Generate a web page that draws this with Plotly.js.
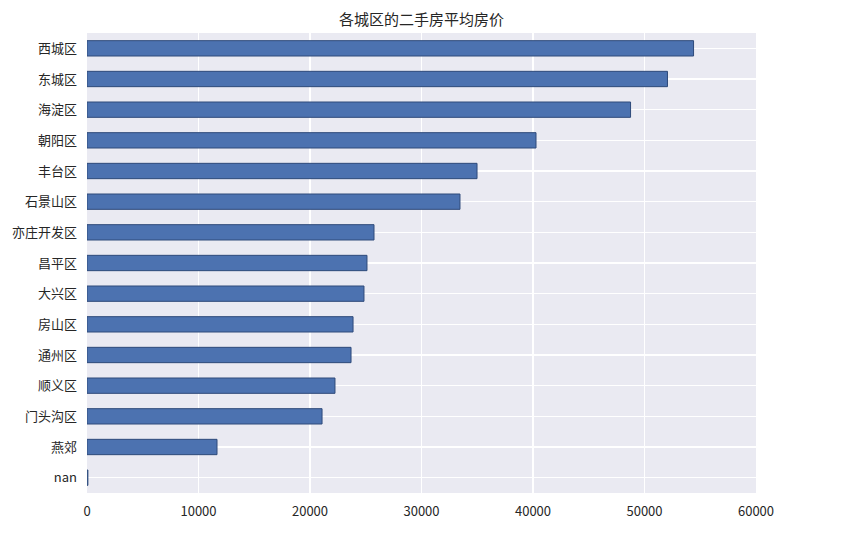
<!DOCTYPE html>
<html>
<head>
<meta charset="utf-8">
<script src="https://cdn.plot.ly/plotly-3.0.1.min.js"></script>
<style>html,body{margin:0;padding:0;background:#fff;}#chart{width:865px;height:535px;}</style>
</head>
<body>
<div id="chart"></div>
<script>
const districts = ["西城区","东城区","海淀区","朝阳区","丰台区","石景山区","亦庄开发区","昌平区","大兴区","房山区","通州区","顺义区","门头沟区","燕郊","nan"];
const avgPrice = [54400, 52060, 48750, 40270, 34980, 33450, 25740, 25110, 24840, 23860, 23680, 22240, 21080, 11660, 80];
const xTicks = [0, 10000, 20000, 30000, 40000, 50000, 60000];
const chartTitle = "各城区的二手房平均房价";

const font = '"Noto Sans CJK SC", "Noto Sans", sans-serif';
Plotly.newPlot('chart', [{
  type: 'bar',
  orientation: 'h',
  x: avgPrice,
  y: districts,
  width: 0.5,
  marker: {color: '#4C72B0', line: {color: '#2E4A7A', width: 1}},
  hoverinfo: 'x+y'
}], {
  width: 865, height: 535,
  margin: {l: 87, r: 109, t: 33, b: 42, pad: 0},
  paper_bgcolor: '#ffffff',
  plot_bgcolor: '#EAEAF2',
  title: {text: chartTitle, x: 0.5, xanchor: 'center', xref: 'paper', y: 0.963, yanchor: 'middle', font: {family: font, size: 15, color: '#262626'}},
  xaxis: {range: [0, 60000], tickvals: xTicks, ticktext: xTicks.map(String), showgrid: true, gridcolor: '#ffffff', gridwidth: 1.2, zeroline: false, showline: false, ticks: '', ticklen: 0, ticklabelstandoff: 9, tickfont: {family: font, size: 13, color: '#262626'}},
  yaxis: {type: 'category', autorange: 'reversed', showgrid: true, gridcolor: '#ffffff', gridwidth: 1.2, zeroline: false, showline: false, ticks: '', ticklen: 0, ticklabelstandoff: 9, tickfont: {family: font, size: 13, color: '#262626'}},
  showlegend: false,
  bargap: 0.5
}, {displayModeBar: false, staticPlot: true});
</script>
</body>
</html>
